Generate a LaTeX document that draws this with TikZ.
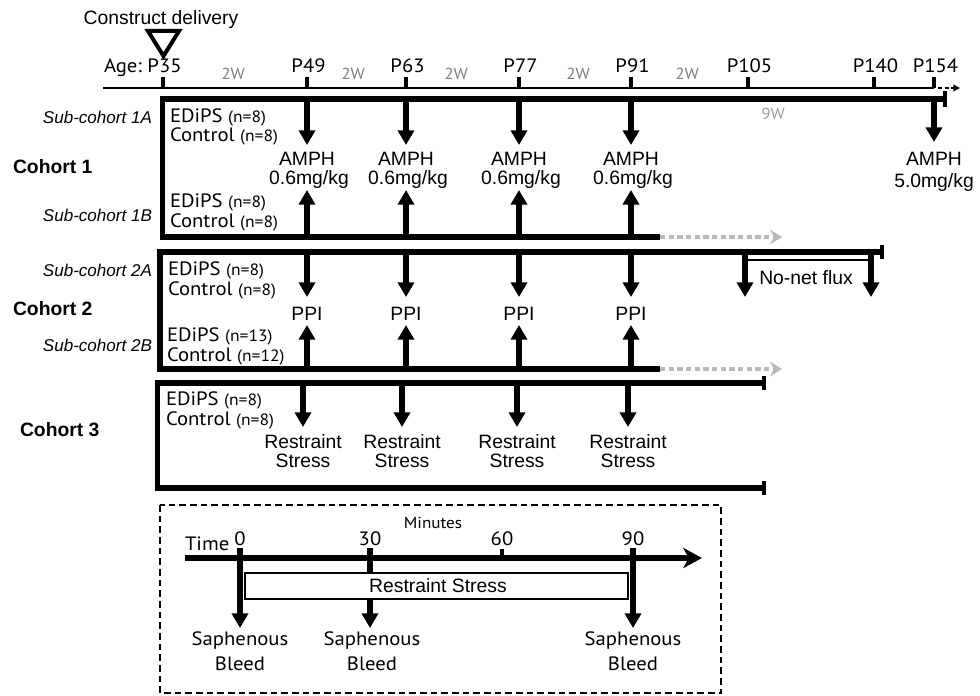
\documentclass[tikz,border=0pt]{standalone}
\usepackage{fontspec}
\setmainfont{PT Sans}[FakeStretch=1.07]
\newfontfamily\arialf{Liberation Sans}
\usetikzlibrary{arrows.meta}
\definecolor{wkgray}{RGB}{128,128,128}
\definecolor{dotgray}{RGB}{185,185,185}
\newcommand{\nsm}[1]{{\fontsize{12.3}{13}\selectfont #1}}
\begin{document}
\begin{tikzpicture}[x=0.75pt,y=-0.75pt,
  every node/.style={inner sep=0pt,outer sep=0pt},
  lbl/.style={font=\fontsize{14.5}{16}\selectfont},
  albl/.style={font=\arialf\fontsize{14.5}{16}\selectfont},
  sublbl/.style={font=\arialf\itshape\fontsize{12.8}{14}\selectfont},
  cohlbl/.style={font=\arialf\bfseries\fontsize{14.5}{16}\selectfont},
  wk/.style={font=\fontsize{12}{13}\selectfont,text=wkgray},
  fr/.style={line width=3.8pt,line join=miter},
  endbar/.style={line width=3pt},
  tl/.style={line width=1.9pt},
  tk/.style={line width=3pt},
  arr/.style={line width=3.8pt,-{Triangle[length=11pt,width=12pt]}},
  gdash/.style={line width=2.3pt,dotgray,dash pattern=on 4pt off 2.5pt,-{Stealth[length=9pt,width=11pt,inset=3pt]}},
]
\useasboundingbox (0,0) rectangle (980,695);

% ---------- header ----------
\node[albl,anchor=base] (cd) at (161,25) {Construct delivery};
\draw[line width=3pt,line join=miter] (148,31) -- (179,31) -- (163.5,56) -- cycle;
\node[lbl,anchor=base east] (age) at (142,73) {Age:};
\draw[tl] (103,88) coordinate (tl0) -- (934,88) coordinate (tl1);
\foreach \x/\t in {163/P35,307/P49,406/P63,519/P77,631/P91,748/P105,874/P140,934/P154}{
  \node[lbl,anchor=base] (l\t) at (\x+1.5,73) {\t};
  \draw[tk] (\x,77) -- (\x,88);
}
\draw[line width=1.5pt,dash pattern=on 3pt off 2pt,-{Triangle[length=5pt,width=5pt]}] (tl1) ++(4,0) -- ++(22,0);
\foreach \x [count=\i] in {233,353,456,578,687}{
  \node[wk,anchor=base] (w\i) at (\x,80) {2W};
}
\node[wk,text=dotgray!85!black,anchor=base] (w9) at (773,120) {9W};

% ---------- Cohort 1 ----------
\draw[fr] (945,99) coordinate (c1e) -- (162.5,99) -- (162.5,237) -- (660,237) coordinate (c1b);
\draw[endbar] (945,91) -- (945,107);
\draw[gdash] (c1b) -- (782,237);
\foreach \x in {307,406,519,631}{
  \draw[arr] (\x,99) -- (\x,145);
  \draw[arr] (\x,237) -- (\x,190);
  \node[albl,anchor=base] (amA\x) at (\x,166) {AMPH};
  \node[albl,anchor=base] (amB\x) at (\x+2,185) {0.6mg/kg};
}
\draw[arr] (934,99) -- (934,142);
\node[albl,anchor=base] (am154) at (934,166) {AMPH};
\node[albl,anchor=base] (amd154) at (934,188) {5.0mg/kg};

\node[sublbl,anchor=base east] (s1a) at (152,124) {Sub-cohort 1A};
\node[sublbl,anchor=base east] (s1b) at (152,221.5) {Sub-cohort 1B};
\node[cohlbl,anchor=base west] (c1) at (13,173.3) {Cohort 1};
\node[lbl,anchor=base west] (e1a) at (170,123) {EDiPS \nsm{(n=8)}};
\node[lbl,anchor=base west] (k1a) at (170,142) {Control \nsm{(n=8)}};
\node[lbl,anchor=base west] (e1b) at (170,208) {EDiPS \nsm{(n=8)}};
\node[lbl,anchor=base west] (k1b) at (170,228) {Control \nsm{(n=8)}};

% ---------- Cohort 2 ----------
\draw[fr] (882,252) -- (160,252) -- (160,369) -- (660,369) coordinate (c2b);
\draw[endbar] (882,245) -- (882,259);
\draw[gdash] (c2b) -- (782,369);
\foreach \x in {307,406,519,631}{
  \draw[arr] (\x,252) -- (\x,297);
  \draw[arr] (\x,369) -- (\x,325);
  \node[albl,anchor=base] (ppi\x) at (\x,320) {PPI};
}
\draw[arr] (745,252) -- (745,297);
\draw[arr] (871,252) -- (871,297);
\draw[line width=1.5pt] (745,260) -- (871,260);
\node[albl] (nnf) at (806,278) {No-net flux};

\node[sublbl,anchor=base east] (s2a) at (152,276.7) {Sub-cohort 2A};
\node[sublbl,anchor=base east] (s2b) at (152,351.7) {Sub-cohort 2B};
\node[cohlbl,anchor=base west] (c2) at (13,315) {Cohort 2};
\node[lbl,anchor=base west] (e2a) at (168,275) {EDiPS \nsm{(n=8)}};
\node[lbl,anchor=base west] (k2a) at (168,295) {Control \nsm{(n=8)}};
\node[lbl,anchor=base west] (e2b) at (167,341.7) {EDiPS \nsm{(n=13)}};
\node[lbl,anchor=base west] (k2b) at (167,361.7) {Control \nsm{(n=12)}};

% ---------- Cohort 3 ----------
\draw[fr] (764,383) -- (157.5,383) -- (157.5,488) -- (764,488);
\draw[endbar] (764,376) -- (764,390);
\draw[endbar] (764,481) -- (764,495);
\foreach \x in {303,402,517,628}{
  \draw[arr] (\x,383) -- (\x,427);
  \node[albl,anchor=base] (rs\x) at (\x,448.5) {Restraint};
  \node[albl,anchor=base] (st\x) at (\x,467.5) {Stress};
}
\node[cohlbl,anchor=base west] (c3) at (20,436.7) {Cohort 3};
\node[lbl,anchor=base west] (e3) at (166,405) {EDiPS \nsm{(n=8)}};
\node[lbl,anchor=base west] (k3) at (166,425) {Control \nsm{(n=8)}};

% ---------- inset ----------
\draw[line width=1.5pt,dash pattern=on 5pt off 3pt] (160,505) rectangle (721,693);
\node[font=\fontsize{12}{13}\selectfont,anchor=base] (min) at (433,528) {Minutes};
\node[lbl,anchor=base west] (time) at (185,550) {Time};
\draw[line width=3.8pt,-{Stealth[length=14pt,width=15pt,inset=4pt]}] (185,558) -- (702,558);
\foreach \x/\t in {240/0,370/30,502/60,633/90}{
  \node[lbl,anchor=base] (m\t) at (\x,545) {\t};
}
\draw[tk] (502,549) -- (502,558);
\draw[arr] (370,548) -- (370,628);
\draw[line width=2pt,fill=white] (245,573) rectangle (628,599);
\node[albl] (rsbox) at (438,586) {Restraint Stress};
\draw[arr] (240,548) -- (240,628);
\draw[arr] (633,548) -- (633,628);
\foreach \x in {240,372,633}{
  \node[lbl,anchor=base] (sa\x) at (\x,645) {Saphenous};
  \node[lbl,anchor=base] (bl\x) at (\x,670) {Bleed};
}
\end{tikzpicture}
\end{document}
